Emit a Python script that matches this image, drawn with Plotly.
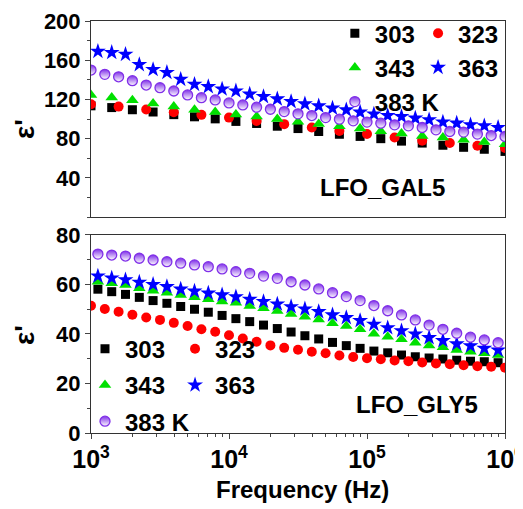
import plotly.graph_objects as go

# ---------------- data ----------------
# frequencies (Hz)
freq_a = [1000, 1413, 1995, 2818, 3981, 5623, 7943, 11220, 15849, 22387, 31623,
          44668, 63096, 89125, 125893, 177828, 251189, 354813, 501187, 707946, 1000000]
freq_b = [1000, 1585, 2512, 3981, 6310, 10000, 15849, 25119, 39811, 63096, 100000,
          158489, 251189, 398107, 630957, 1000000]
freq_c = [1000, 1259, 1585, 1995, 2512, 3162, 3981, 5012, 6310, 7943, 10000, 12589,
          15849, 19953, 25119, 31623, 39811, 50119, 63096, 79433, 100000, 125893,
          158489, 199526, 251189, 316228, 398107, 501187, 630957, 794328, 1000000]
freq_d = [1122, 1413, 1778, 2239, 2818, 3548, 4467, 5623, 7079, 8913, 11220, 14125,
          17783, 22387, 28184, 35481, 44668, 56234, 70795, 89125, 112202, 141254,
          177828, 223872, 281838, 354813, 446684, 562341, 707946, 891251]

# LFO_GAL5 (top panel)
gal_303 = [113.5, 111.7, 109.5, 107.2, 104.5, 102.3, 100.2, 97.6, 95.5, 92.7, 90.3,
           87.3, 84.5, 82.3, 80.0, 77.5, 75.5, 73.3, 71.2, 69.2, 67.0]
gal_323 = [115.1, 112.7, 109.8, 107.0, 104.3, 101.5, 98.0, 94.8, 91.4, 87.8, 84.7,
           81.2, 77.8, 75.5, 72.8, 70.5]
gal_343 = [124.6, 122.0, 119.2, 115.8, 112.7, 109.6, 107.3, 104.7, 102.5, 100.0, 97.3,
           95.0, 92.7, 90.4, 87.6, 85.3, 82.6, 81.2, 78.9, 76.6, 74.2]
gal_363 = [169.0, 167.9, 166.0, 155.5, 150.5, 147.5, 140.5, 135.4, 133.0, 130.6, 128.6,
           125.4, 122.9, 120.5, 117.8, 115.4, 113.4, 111.1, 109.3, 107.0, 105.1, 103.6,
           102.5, 100.9, 99.2, 96.9, 95.8, 94.1, 93.1, 91.4]
gal_383 = [150.0, 145.6, 143.1, 139.1, 134.7, 132.0, 128.6, 124.6, 121.8, 119.5, 116.5,
           114.4, 112.1, 110.0, 107.6, 105.3, 103.6, 101.5, 99.9, 98.2, 96.9, 95.8,
           94.1, 93.1, 91.4, 89.0, 87.3, 86.7, 84.7, 83.2, 82.2]

# LFO_GLY5 (bottom panel)
gly_303 = [58.1, 57.1, 56.0, 54.8, 53.5, 52.4, 51.1, 50.0, 48.8, 47.5, 46.2, 45.0,
           43.6, 42.2, 40.8, 39.3, 38.0, 36.6, 35.3, 34.2, 33.1, 32.4, 31.5, 30.8,
           30.3, 29.9, 29.4, 29.0, 28.8, 28.4]
gly_323 = [51.4, 50.1, 49.0, 47.8, 46.7, 45.7, 44.5, 43.2, 41.9, 40.9, 39.5, 38.2,
           36.9, 35.4, 34.4, 33.6, 32.8, 32.2, 31.3, 30.7, 30.2, 29.8, 29.3, 29.0,
           28.5, 28.1, 27.8, 27.4, 27.0, 26.8, 26.4]
gly_343 = [61.1, 60.5, 59.8, 58.5, 57.5, 56.7, 55.8, 54.8, 54.0, 53.1, 52.6, 51.3,
           50.4, 49.3, 48.1, 47.0, 45.9, 44.3, 43.2, 41.9, 40.1, 38.9, 37.9, 36.5,
           35.4, 34.6, 33.5, 32.8, 32.2, 31.5]
gly_363 = [63.4, 62.6, 61.9, 60.9, 60.0, 59.1, 58.1, 57.3, 56.5, 55.8, 55.0, 54.0,
           53.1, 52.1, 51.0, 50.1, 49.0, 47.7, 46.6, 45.4, 43.9, 42.5, 41.3, 40.0,
           38.5, 37.3, 36.0, 35.2, 34.2, 33.5]
gly_383 = [72.3, 71.9, 71.5, 70.6, 69.9, 69.2, 68.6, 67.9, 67.2, 66.3, 65.2, 64.5,
           63.4, 62.5, 61.1, 59.8, 58.2, 56.7, 55.1, 53.5, 51.5, 49.4, 47.7, 45.7,
           43.6, 41.9, 40.3, 38.7, 37.6, 36.5]

names = ["303", "323", "343", "363", "383 K"]
top_ticks = [40, 80, 120, 160, 200]
bot_ticks = [0, 20, 40, 60, 80]

# ---------------- style ----------------
FONT = "Liberation Sans, Arial, sans-serif"
PURPLE = "#8030e8"
styles = {
    "303": dict(symbol="square", color="#000000", size=9),
    "323": dict(symbol="circle", color="#ff0000", size=10),
    "343": dict(symbol="triangle-up", color="#00e000", size=11),
    "363": dict(symbol="star", color="#0000ff", size=12),
    "383 K": dict(symbol="circle", color=PURPLE, size=10,
                  gradient=dict(type="vertical", color="#ffffff"),
                  line=dict(color=PURPLE, width=1.3)),
}
col_of = {"303": 0, "343": 0, "383 K": 0, "323": 1, "363": 1}

fig = go.Figure()

top = [(freq_a, gal_303), (freq_b, gal_323), (freq_a, gal_343), (freq_d, gal_363), (freq_c, gal_383)]
bot = [(freq_d, gly_303), (freq_c, gly_323), (freq_d, gly_343), (freq_d, gly_363), (freq_d, gly_383)]

for panel, data, xa, ya, legs in [("t", top, "x", "y", ["legend", "legend2"]),
                                   ("b", bot, "x2", "y2", ["legend3", "legend4"])]:
    for name, (fx, fy) in zip(names, data):
        fig.add_trace(go.Scatter(
            x=fx, y=fy, mode="markers", name=name,
            marker=styles[name], xaxis=xa, yaxis=ya,
            legend=legs[col_of[name]], legendgroup=panel + name,
            showlegend=True))

axis_common = dict(showline=True, linecolor="#333333", linewidth=1, mirror=True,
                   showgrid=False, zeroline=False)
tickfont_y = dict(family=FONT, size=22, color="#000000", weight="bold")
tickfont_x = dict(family=FONT, size=20, color="#000000", weight="bold")

# page body adds an 8px offset; figure sized to fit the 523x509 window
fig.update_layout(
    width=515, height=501,
    margin=dict(l=83, r=18, t=13, b=76, autoexpand=False),
    plot_bgcolor="white", paper_bgcolor="white",
    font=dict(family=FONT, color="#000000"),
    xaxis=dict(type="log", range=[3, 6], domain=[0, 1], anchor="y",
               showticklabels=False, ticks="", **axis_common),
    yaxis=dict(domain=[0.524, 1], range=[0, 200], anchor="x",
               tickmode="array", tickvals=top_ticks, ticks="outside", ticklen=5,
               tickfont=tickfont_y,
               minor=dict(ticks="outside", ticklen=3, dtick=20, tick0=0),
               **axis_common),
    xaxis2=dict(type="log", range=[3, 6], domain=[0, 1], anchor="y2",
                tickmode="linear", tick0=0, dtick=1, exponentformat="power",
                ticks="outside", ticklen=5, tickfont=tickfont_x,
                ticklabeloverflow="allow",
                minor=dict(ticks="outside", ticklen=3, dtick="D1"),
                **axis_common),
    yaxis2=dict(domain=[0, 0.4806], range=[0, 80], anchor="x2",
                tickmode="array", tickvals=bot_ticks, ticks="outside", ticklen=5,
                tickfont=tickfont_y,
                minor=dict(ticks="outside", ticklen=3, dtick=10, tick0=0),
                **axis_common),
)

leg_common = dict(bgcolor="rgba(0,0,0,0)", borderwidth=0, orientation="v",
                  font=dict(family=FONT, size=24, color="#000000", weight="bold"),
                  xanchor="left", yanchor="top", itemclick=False,
                  traceorder="grouped")
fig.update_layout(
    legend=dict(x=0.589, y=1.024, tracegroupgap=0, **leg_common),
    legend2=dict(x=0.790, y=1.024, tracegroupgap=0, **leg_common),
    legend3=dict(x=-0.0145, y=0.258, tracegroupgap=2, **leg_common),
    legend4=dict(x=0.203, y=0.258, tracegroupgap=2, **leg_common),
)

ann_font = dict(family=FONT, size=24, color="#000000", weight="bold")
fig.add_annotation(text="LFO_GAL5", xref="paper", yref="paper", x=0.705, y=0.597,
                   showarrow=False, font=ann_font, xanchor="center", yanchor="middle")
fig.add_annotation(text="LFO_GLY5", xref="paper", yref="paper", x=0.787, y=0.068,
                   showarrow=False, font=ann_font, xanchor="center", yanchor="middle")
eps_font = dict(family=FONT, size=28, color="#000000", weight="bold")
fig.add_annotation(text="ε'", xref="paper", yref="paper", x=-0.159, y=0.738,
                   showarrow=False, font=eps_font, textangle=-90,
                   xanchor="center", yanchor="middle")
fig.add_annotation(text="ε'", xref="paper", yref="paper", x=-0.159, y=0.238,
                   showarrow=False, font=eps_font, textangle=-90,
                   xanchor="center", yanchor="middle")
fig.add_annotation(text="Frequency (Hz)", xref="paper", yref="paper", x=0.511, y=-0.138,
                   showarrow=False, font=dict(family=FONT, size=24, color="#000000", weight="bold"),
                   xanchor="center", yanchor="middle")

fig.write_html("out.html")
